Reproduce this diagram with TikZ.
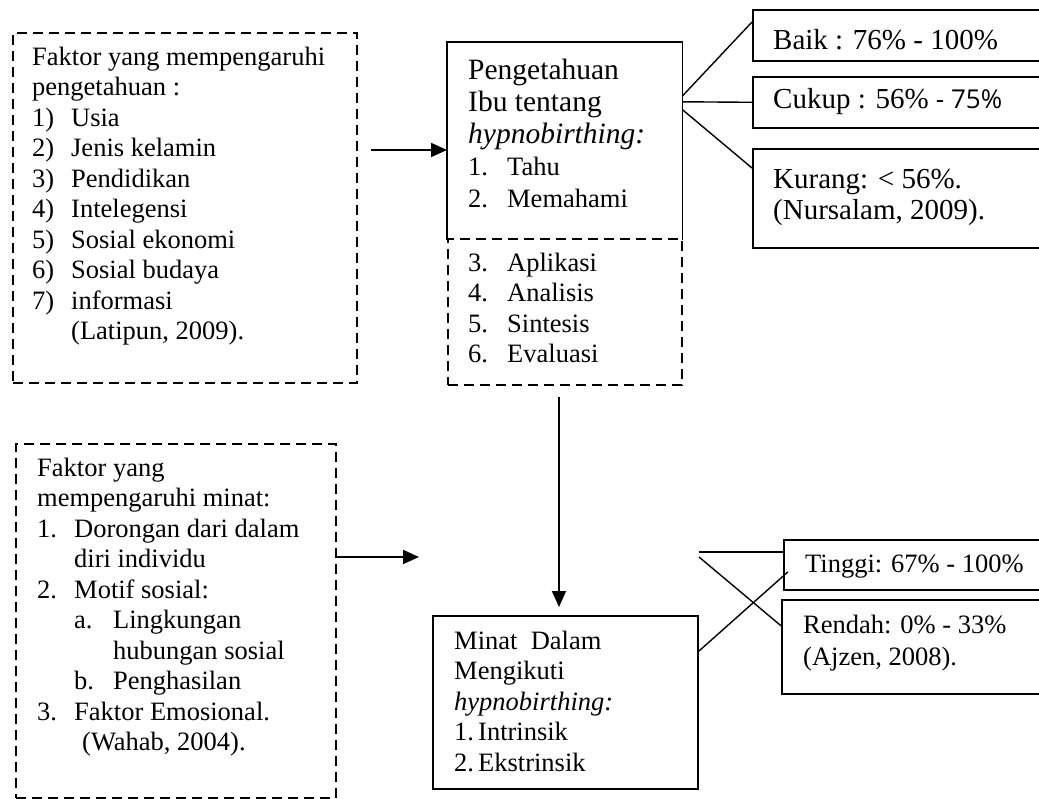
\documentclass[tikz,border=0pt]{standalone}
\usepackage{fontspec}
\setmainfont{Liberation Serif}
\newfontfamily\sansnum{Open Sans}
\usetikzlibrary{positioning,calc,arrows.meta}
\newcommand{\itm}[3][39pt]{\makebox[#1][l]{#2}#3}
\newcommand{\bigline}[1]{{\fontsize{29.5}{32}\selectfont #1}}

\begin{document}
\begin{tikzpicture}[x=1pt,y=-1pt,
		box/.style={draw, line width=1.6pt, inner sep=0pt, anchor=north west},
		dbox/.style={box, dash pattern=on 10pt off 6pt},
		txt/.style={font=\fontsize{26.5}{30.5}\selectfont, align=left, inner sep=0pt, anchor=north west},
		bigtxt/.style={txt, font=\fontsize{29}{31}\selectfont},
		ln/.style={line width=1.4pt},
		arr/.style={line width=1.8pt, -{Triangle[length=16pt,width=14pt]}}]
		\useasboundingbox (0,0) rectangle (1039,799);
		\node[dbox, minimum width=344pt, minimum height=350pt] (faktorP) at (12,32) {};
		\node[box, draw=none, minimum width=234pt, minimum height=196pt] (peng) at (447,42) {};
		\draw[line width=1.6pt] (peng.south west) -- (peng.north west) -- (peng.north east) -- (peng.south east);
		\node[dbox, minimum width=234pt, minimum height=146pt] (kog) at (447,238) {};
		\node[dbox, minimum width=320pt, minimum height=354pt] (faktorM) at (15,443) {};
		\node[box, minimum width=265pt, minimum height=173pt] (minat) at (432,615) {};
		\node[box, minimum width=293pt, minimum height=51pt] (baik) at (752,9) {};
		\node[box, minimum width=293pt, minimum height=51pt] (cukup) at (752,76) {};
		\node[box, minimum width=293pt, minimum height=99pt] (kurang) at (752,148) {};
		\node[box, minimum width=262pt, minimum height=50pt] (tinggi) at (783,539) {};
		\node[box, minimum width=264pt, minimum height=94pt] (rendah) at (781,599) {};
		\node[txt] (faktorPtx) at (32,43.6) {\strut Faktor yang mempengaruhi\\
			pengetahuan :\\ \itm{1)}{Usia}\\ \itm{2)}{Jenis kelamin}\\ \itm{3)}{Pendidikan}\\
			\itm{4)}{Intelegensi}\\ \itm{5)}{Sosial ekonomi}\\ \itm{6)}{Sosial budaya}\\
			\itm{7)}{informasi}\\ \itm{}{(Latipun, 2009).}};
		\node[txt, font=\fontsize{26.5}{32}\selectfont] (pengtx) at (468,56.6) {\strut\bigline{Pengetahuan}\\
			\bigline{Ibu tentang}\\ \bigline{\textit{hypnobirthing:}}\\ \itm{1.}{Tahu}\\ \itm{2.}{Memahami}};
		\node[txt] (kogtx) at (468,249.6) {\strut\itm{3.}{Aplikasi}\\ \itm{4.}{Analisis}\\
			\itm{5.}{Sintesis}\\ \itm{6.}{Evaluasi}};
		\node[txt] (faktorMtx) at (37,454.6) {\strut Faktor yang\\ mempengaruhi minat:\\
			\itm[37pt]{1.}{Dorongan dari dalam}\\ \itm[37pt]{}{diri individu}\\
			\itm[37pt]{2.}{Motif sosial:}\\ \hspace*{37pt}\itm{a.}{Lingkungan}\\
			\hspace*{37pt}\itm{}{hubungan sosial}\\ \hspace*{37pt}\itm{b.}{Penghasilan}\\
			\itm[37pt]{3.}{Faktor Emosional.}\\ \hspace*{45pt}(Wahab, 2004).};
		\node[txt] (minattx) at (454,627.6) {\strut Minat\ \ Dalam\\ Mengikuti\\
			\textit{hypnobirthing:}\\ \itm[24pt]{1.}{Intrinsik}\\ \itm[24pt]{2.}{Ekstrinsik}};
		\node[bigtxt] (baiktx) at (773,28) {\strut Baik : 76\% - 100\%};
		\begin{scope}
			\clip (752,76) rectangle (1039,116);
			\node[bigtxt] (cukuptx) at (773,87) {\strut Cukup : 56\% {\sansnum\fontsize{26}{31}\selectfont - 75\%}};
		\end{scope}
		\node[bigtxt] (kurangtx) at (773,167) {\strut Kurang: < 56\%.\\ (Nursalam, 2009).};
		\node[txt] (tinggitx) at (805,550.6) {\strut Tinggi: 67\% - 100\%};
		\node[txt, font=\fontsize{26.5}{32}\selectfont] (rendahtx) at (803,610.6) {\strut Rendah: 0\% - 33\%\\ (Ajzen, 2008).};
		\draw[ln] ([yshift=45pt]peng.east) -- ([yshift=-13pt]baik.north west);
		\draw[ln] ([yshift=39pt]peng.east) -- (cukup.west);
		\draw[ln] ([yshift=31pt]peng.east) -- ([yshift=-20pt]kurang.north west);
		\coordinate (m1) at (699,552);
		\coordinate (m2) at (699,557);
		\coordinate (m3) at (699,651);
		\draw[ln] (m1) -- (m1 -| tinggi.west);
		\draw[ln] (m2) -- ([yshift=21pt]rendah.west);
		\draw[ln] (m3) -- ([xshift=5pt,yshift=-7pt]tinggi.west);
		\coordinate (a1) at (371,150);
		\draw[arr] (a1) -- (a1 -| peng.west);
		\coordinate (a2) at (559,397);
		\draw[arr] (a2) -- ([yshift=8pt]a2 |- minat.north);
		\coordinate (a3) at (337,557);
		\coordinate (a3e) at (419,557);
		\draw[arr] (a3) -- (a3e);
	\end{tikzpicture}
\end{document}
